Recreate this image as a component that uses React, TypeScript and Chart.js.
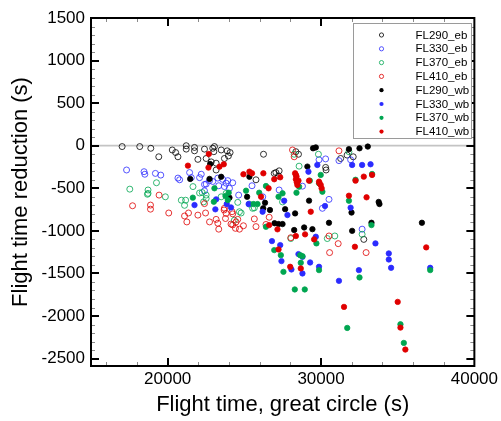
import React, { useEffect, useRef } from 'react';
import { Chart, registerables } from 'chart.js';
Chart.register(...registerables);

const X_MIN = 15000;
const X_MAX = 40000;
const Y_MIN = -2587;
const Y_MAX = 1500;
const X_TICKS = [20000, 30000, 40000];
const Y_TICKS = [1500, 1000, 500, 0, -500, -1000, -1500, -2000, -2500];
const X_TITLE = 'Flight time, great circle (s)';
const Y_TITLE = 'Flight time reduction (s)';

const SERIES_NAMES = ['FL290_eb', 'FL330_eb', 'FL370_eb', 'FL410_eb', 'FL290_wb', 'FL330_wb', 'FL370_wb', 'FL410_wb'];
const SERIES_COLORS = ['#000000', '#2b2bff', '#00a651', '#e00000', '#000000', '#2b2bff', '#00a651', '#e00000'];
const SERIES_FILLED = [false, false, false, false, true, true, true, true];

const FL290_EB: [number, number][] = [
  [17030, -10], [18180, -10], [18900, -30], [19420, -130], [20300, -50], [20520, -80], [20670, -130],
  [21210, 0], [21210, -40], [21750, -20], [21750, -60], [21970, -160], [22400, -40], [22510, -150],
  [22940, -30], [23010, -70], [23160, -285], [23160, -205], [23700, -150], [23880, -60], [23050, -10],
  [23490, -50], [24070, -80], [23960, -120], [22840, -190], [26250, -100], [26950, -325], [27270, -295],
  [27230, -355], [28360, -70], [28530, -100], [27060, -315], [25760, -400], [30300, -255], [30330, -285],
  [31280, -150], [31700, -110], [32100, -130], [32790, -1100],
];
const FL330_EB: [number, number][] = [
  [17320, -285], [18460, -305], [18510, -335], [19200, -325], [19550, -345], [20670, -380], [20780, -400],
  [21430, -315], [21540, -375], [22080, -375], [22400, -455], [22730, -410], [23270, -380], [23810, -440],
  [23330, -470], [22400, -530], [22190, -335], [22510, -450], [22940, -420], [23590, -395], [23920, -410],
  [24240, -435], [24030, -500], [23700, -480], [24630, -580], [25500, -470], [26200, -600], [27270, -520],
  [30520, -630], [30090, -735], [31170, -175], [31930, -165], [30300, -155], [28790, -475], [29870, -165],
  [32680, -980],
];
const FL370_EB: [number, number][] = [
  [17530, -510], [18720, -520], [18720, -560], [19270, -435], [19850, -600], [20890, -640], [21170, -640],
  [21100, -700], [21650, -480], [22250, -550], [22510, -580], [22510, -620], [23490, -600], [23810, -560],
  [18680, -570], [24570, -665], [24790, -790], [24350, -875], [25540, -735], [22080, -555], [22340, -660],
  [24680, -775], [25330, -685], [27490, -660], [28030, -1090], [28250, -100], [28570, -240], [29830, -100],
  [30900, -1060], [30410, -1090], [25650, -730], [32680, -1040], [31820, -70],
];
const FL410_EB: [number, number][] = [
  [17710, -705], [18880, -697], [18880, -745], [19440, -580], [20070, -790], [21100, -825], [21360, -790],
  [21250, -895], [21970, -815], [22470, -790], [22730, -895], [23270, -910], [23330, -980], [22400, -680],
  [23700, -735], [23160, -865], [24200, -775], [24460, -895], [24130, -920], [24420, -970], [24940, -940],
  [25650, -860], [25760, -950], [24240, -800], [23810, -795], [23770, -855], [24240, -930], [24570, -865],
  [24680, -980], [23680, -755], [26620, -840], [26410, -925], [28140, -50], [28030, -1080], [30520, -1060],
  [31170, -60], [28250, -130], [31120, -1150], [30560, -1255], [32940, -1255],
];
const FL290_WB: [number, number][] = [
  [22770, -215], [21470, -390], [22730, -390], [23490, -365], [24030, -610], [25330, -365], [25180, -600],
  [26350, -670], [26670, -755], [27660, -745], [26970, -910], [27490, -920], [28310, -795], [26230, -735],
  [27230, -920], [28250, -990], [28900, -960], [29440, -980], [29220, -645], [29110, -245], [29480, -30],
  [29660, -20], [31820, -40], [31990, -785], [30520, -905], [32510, -30], [33050, -10], [33760, -660],
  [33810, -685], [33290, -905], [32030, -1000], [36580, -905],
];
const FL330_WB: [number, number][] = [
  [21750, -697], [23160, -630], [23110, -747], [23850, -685], [24130, -725], [25280, -685], [26190, -775],
  [27600, -646], [27810, -814], [26800, -1120], [27340, -1167], [29180, -305], [29760, -226], [28530, -1273],
  [29290, -1371], [28070, -1453], [28790, -1500], [29870, -1422], [30260, -708], [31170, -1587], [32030, -226],
  [31930, -728], [32470, -1461], [32680, -226], [33230, -218], [33550, -1147], [34420, -1265], [34420, -1336],
  [34570, -1434], [37120, -1434], [27420, -1355], [28790, -1305], [29660, -1069],
];
const FL370_WB: [number, number][] = [
  [23050, -500], [21640, -610], [23010, -658], [23770, -590], [23980, -552], [23920, -638], [25110, -528],
  [25970, -552], [26410, -473], [25600, -685], [25860, -685], [26410, -952], [27230, -599], [27490, -559],
  [28400, -552], [26950, -1226], [27380, -1285], [28570, -481], [29980, -343], [29870, -441], [30090, -540],
  [29270, -410], [28640, -1285], [28680, -1375], [29870, -1461], [27550, -1481], [28290, -1688], [28940, -1688],
  [31820, -646], [32250, -400], [31710, -2140], [33330, -332], [33290, -932], [32510, -1547], [35180, -2097],
  [35400, -2316], [37120, -1461], [29700, -1147], [28790, -1297],
];
const FL410_WB: [number, number][] = [
  [22680, -97], [21320, -234], [22660, -257], [23380, -246], [23660, -218], [24940, -335], [25330, -305],
  [25500, -324], [26240, -324], [26950, -394], [27340, -371], [26580, -500], [26090, -599], [28360, -343],
  [28360, -394], [28460, -461], [28310, -324], [28400, -360], [28420, -430], [28530, -410], [29220, -410],
  [29870, -422], [29900, -440], [29980, -461], [30040, -500], [29330, -775], [26620, -932], [27160, -982],
  [28360, -1061], [28960, -1041], [29550, -1100], [27230, -1218], [27990, -1422], [28680, -1441], [31820, -587],
  [32210, -1187], [31500, -1893], [32250, -410], [32790, -363], [33330, -343], [32970, -606], [36860, -1194],
  [35000, -1834], [35180, -2136], [35500, -2394],
];

const SERIES_DATA = [FL290_EB, FL330_EB, FL370_EB, FL410_EB, FL290_WB, FL330_WB, FL370_WB, FL410_WB];

const FONT = "'Liberation Sans', Arial, Helvetica, sans-serif";

const framePlugin = {
  id: 'frameTicks',
  beforeDatasetsDraw(chart: any) {
    const { ctx, chartArea: a, scales } = chart;
    const y0 = scales.y.getPixelForValue(0);
    ctx.save();
    ctx.strokeStyle = '#c4c4c4';
    ctx.lineWidth = 1.8;
    ctx.beginPath();
    ctx.moveTo(a.left, y0);
    ctx.lineTo(a.right, y0);
    ctx.stroke();
    ctx.restore();
  },
  afterDatasetsDraw(chart: any) {
    const { ctx, chartArea: a, scales } = chart;
    const x = scales.x;
    const y = scales.y;
    const line = (x1: number, y1: number, x2: number, y2: number) => {
      ctx.beginPath();
      ctx.moveTo(x1, y1);
      ctx.lineTo(x2, y2);
      ctx.stroke();
    };
    ctx.save();
    ctx.strokeStyle = '#8a8a8a';
    ctx.lineWidth = 1;
    for (let v = 16000; v < X_MAX; v += 2000) {
      if (v % 10000 === 0) continue;
      const px = Math.round(x.getPixelForValue(v)) + 0.5;
      line(px, a.bottom, px, a.bottom - 4);
      line(px, a.top, px, a.top + 4);
    }
    for (let v = -2500; v < Y_MAX; v += 100) {
      if (v % 500 === 0) continue;
      const py = Math.round(y.getPixelForValue(v)) + 0.5;
      line(a.left, py, a.left + 4, py);
      line(a.right, py, a.right - 4, py);
    }
    ctx.strokeStyle = '#000';
    ctx.lineWidth = 2;
    for (const v of X_TICKS) {
      if (v >= X_MAX) continue;
      const px = Math.round(x.getPixelForValue(v));
      line(px, a.bottom, px, a.bottom - 8);
      line(px, a.top, px, a.top + 8);
    }
    for (const v of Y_TICKS) {
      if (v >= Y_MAX) continue;
      const py = Math.round(y.getPixelForValue(v));
      line(a.left, py, a.left + 8, py);
      line(a.right, py, a.right - 8, py);
    }
    ctx.lineWidth = 2;
    ctx.strokeRect(a.left, a.top, a.right - a.left, a.bottom - a.top);
    ctx.restore();
  },
  afterDraw(chart: any) {
    const { ctx, chartArea: a } = chart;
    const lx = Math.round(a.right - 121) + 0.5;
    const ly = Math.round(a.top + 5) + 0.5;
    const lw = 118;
    const lh = 115;
    ctx.save();
    ctx.fillStyle = '#ffffff';
    ctx.fillRect(lx, ly, lw, lh);
    ctx.strokeStyle = '#9a9a9a';
    ctx.lineWidth = 1;
    ctx.strokeRect(lx, ly, lw, lh);
    ctx.font = `11.5px ${FONT}`;
    ctx.textBaseline = 'middle';
    ctx.textAlign = 'left';
    SERIES_NAMES.forEach((name, i) => {
      const cy = ly + 11.5 + i * 13.8;
      const cx = lx + 28;
      ctx.beginPath();
      ctx.arc(cx, cy, 2.1, 0, Math.PI * 2);
      if (SERIES_FILLED[i]) {
        ctx.fillStyle = SERIES_COLORS[i];
        ctx.fill();
      } else {
        ctx.strokeStyle = SERIES_COLORS[i];
        ctx.lineWidth = 0.8;
        ctx.stroke();
      }
      ctx.fillStyle = '#000';
      ctx.fillText(name, lx + 62, cy + 0.5);
    });
    ctx.restore();
  },
};

export default function App() {
  const ref = useRef<HTMLCanvasElement>(null);
  useEffect(() => {
    Chart.defaults.font.family = FONT;
    const datasets = SERIES_NAMES.map((name, i) => ({
      label: name,
      data: SERIES_DATA[i].map(([px, py]) => ({ x: px, y: py })),
      pointStyle: 'circle' as const,
      pointRadius: SERIES_FILLED[i] ? 2.7 : 3,
      pointBorderWidth: SERIES_FILLED[i] ? 0.8 : 0.8,
      pointBorderColor: SERIES_COLORS[i],
      pointBackgroundColor: SERIES_FILLED[i] ? SERIES_COLORS[i] : 'rgba(0,0,0,0)',
      showLine: false,
      order: SERIES_NAMES.length - 1 - i,
    }));
    const chart = new Chart(ref.current!, {
      type: 'scatter',
      data: { datasets },
      plugins: [framePlugin],
      options: {
        animation: false,
        responsive: false,
        devicePixelRatio: 1,
        events: [],
        layout: { padding: { left: 0, right: 25, top: 18, bottom: 0 } },
        plugins: { legend: { display: false }, tooltip: { enabled: false } },
        scales: {
          x: {
            type: 'linear',
            min: X_MIN,
            max: X_MAX,
            afterBuildTicks: (s: any) => {
              s.ticks = X_TICKS.map((v) => ({ value: v }));
            },
            afterFit: (s: any) => {
              s.height = 55;
            },
            grid: { display: false, drawTicks: false },
            border: { display: false },
            ticks: {
              color: '#000',
              font: { size: 17, family: FONT },
              padding: 3,
              maxRotation: 0,
              autoSkip: false,
              callback: (v: any) => String(v),
            },
            title: {
              display: true,
              text: X_TITLE,
              color: '#000',
              font: { size: 22, family: FONT },
              padding: { top: 0, bottom: 3 },
            },
          },
          y: {
            type: 'linear',
            min: Y_MIN,
            max: Y_MAX,
            afterBuildTicks: (s: any) => {
              s.ticks = Y_TICKS.map((v) => ({ value: v }));
            },
            afterFit: (s: any) => {
              s.width = 91;
            },
            grid: { display: false, drawTicks: false },
            border: { display: false },
            ticks: {
              color: '#000',
              font: { size: 17, family: FONT },
              padding: 6,
              autoSkip: false,
              callback: (v: any) => String(v),
            },
            title: {
              display: true,
              text: Y_TITLE,
              color: '#000',
              font: { size: 22, family: FONT },
              padding: { top: 8, bottom: 0 },
            },
          },
        },
      },
    });
    return () => chart.destroy();
  }, []);
  return (
    <div style={{ position: 'absolute', left: 0, top: 0, width: 501, height: 421, background: '#fff' }}>
      <canvas ref={ref} width={501} height={421} style={{ width: 501, height: 421, display: 'block' }} />
    </div>
  );
}
